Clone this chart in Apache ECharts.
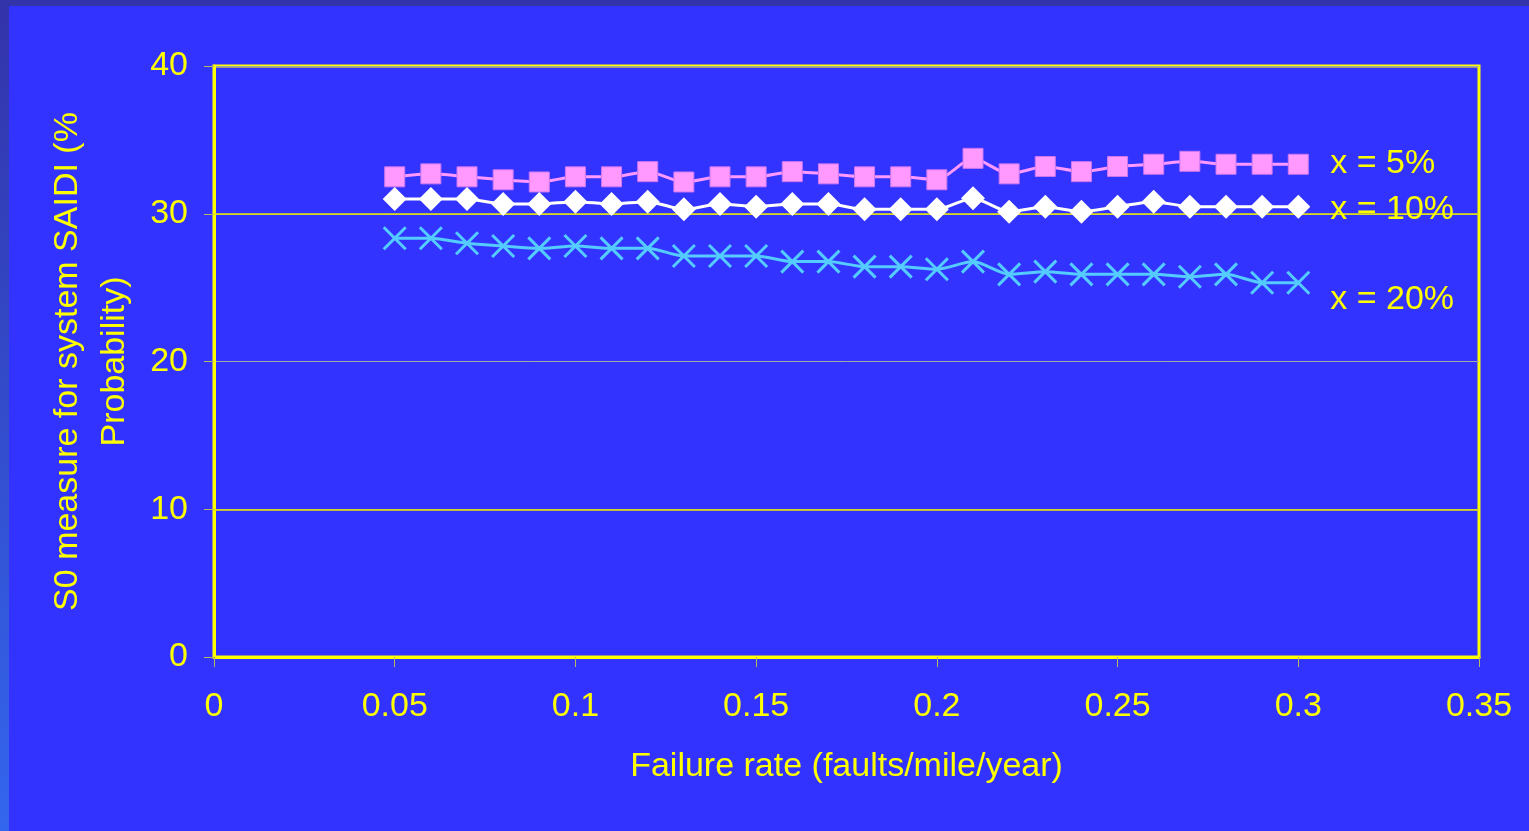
<!DOCTYPE html>
<html>
<head>
<meta charset="utf-8">
<script src="https://cdn.jsdelivr.net/npm/echarts@6/dist/echarts.min.js"></script>
<style>
  html, body { margin: 0; padding: 0; background: #3333ff; }
  #chart { width: 1529px; height: 831px; }
</style>
</head>
<body>
<div id="chart"></div>
<script>
// Failure rate (faults/mile/year)
const rate = [0.05, 0.06, 0.07, 0.08, 0.09, 0.10, 0.11, 0.12, 0.13, 0.14, 0.15, 0.16, 0.17,
              0.18, 0.19, 0.20, 0.21, 0.22, 0.23, 0.24, 0.25, 0.26, 0.27, 0.28, 0.29, 0.30];
// S0 measure for system SAIDI (% probability) for each x
const x5  = [32.5, 32.7, 32.5, 32.3, 32.15, 32.5, 32.5, 32.85, 32.15, 32.5, 32.5, 32.85, 32.7,
             32.5, 32.5, 32.3, 33.75, 32.7, 33.2, 32.85, 33.2, 33.35, 33.55, 33.35, 33.35, 33.35];
const x10 = [31.0, 31.0, 31.0, 30.66, 30.66, 30.82, 30.66, 30.82, 30.3, 30.66, 30.48, 30.66, 30.66,
             30.3, 30.3, 30.3, 31.05, 30.14, 30.48, 30.14, 30.48, 30.82, 30.48, 30.48, 30.48, 30.48];
const x20 = [28.34, 28.34, 28.0, 27.82, 27.66, 27.82, 27.66, 27.66, 27.14, 27.14, 27.14, 26.76, 26.76,
             26.42, 26.42, 26.24, 26.76, 25.9, 26.08, 25.9, 25.9, 25.9, 25.74, 25.9, 25.33, 25.33];
const seriesNames = ['x = 5%', 'x = 10%', 'x = 20%'];
// gridlines drawn in yellow
const yellowGrid = [10, 30];

const FONT = "'Liberation Sans', Arial, sans-serif";
const YELLOW = '#ffff00';
const pairs = arr => arr.map((v, i) => [rate[i], v]);

const chart = echarts.init(document.getElementById('chart'), null, { renderer: 'canvas' });

const endLabel = (text, dy) => ({
  show: true,
  formatter: text,
  color: YELLOW,
  fontFamily: FONT,
  fontSize: 34,
  distance: 32,
  offset: [0, dy]
});

chart.setOption({
  backgroundColor: '#3333ff',
  animation: false,
  graphic: [
    { type: 'rect', shape: { x: 0, y: 0, width: 1529, height: 6 }, style: { fill: '#3333aa' }, z: -1 },
    { type: 'rect', shape: { x: 0, y: 0, width: 9, height: 831 },
      style: { fill: new echarts.graphic.LinearGradient(0, 0, 0, 1, [
        { offset: 0, color: '#3333aa' }, { offset: 1, color: '#3366ee' }]) }, z: -1 }
  ],
  grid: {
    left: 214, right: 50, top: 66, bottom: 174,
    show: true, borderColor: YELLOW, borderWidth: 3, backgroundColor: 'transparent'
  },
  xAxis: {
    type: 'value', min: 0, max: 0.35, interval: 0.05,
    name: 'Failure rate (faults/mile/year)',
    nameLocation: 'middle', nameGap: 93,
    nameTextStyle: { color: YELLOW, fontFamily: FONT, fontSize: 34 },
    axisLine: { show: true, lineStyle: { color: YELLOW, width: 3 } },
    axisTick: { show: true, length: 10, lineStyle: { color: '#b8b860', width: 1 } },
    axisLabel: { color: YELLOW, fontFamily: FONT, fontSize: 34, margin: 33 },
    splitLine: { show: false }
  },
  yAxis: {
    type: 'value', min: 0, max: 40, interval: 10,
    name: 'S0 measure for system SAIDI (%\nProbability)',
    nameLocation: 'middle', nameGap: 76, nameRotate: 90,
    nameTextStyle: { color: YELLOW, fontFamily: FONT, fontSize: 34, lineHeight: 47, align: 'center' },
    axisLine: { show: true, lineStyle: { color: YELLOW, width: 3 } },
    axisTick: { show: true, length: 10, lineStyle: { color: '#b8b860', width: 1 } },
    axisLabel: { color: YELLOW, fontFamily: FONT, fontSize: 34, margin: 26 },
    splitLine: { show: true, lineStyle: { color: '#a8a8a8', width: 1 } }
  },
  series: [
    {
      name: seriesNames[0], type: 'line', data: pairs(x5), smooth: 0.25,
      symbol: 'rect', symbolSize: 20,
      lineStyle: { color: '#ff99ff', width: 3 },
      itemStyle: { color: '#ff99ff', borderColor: '#cc77ee', borderWidth: 1 },
      endLabel: endLabel(seriesNames[0], -1),
      markLine: {
        silent: true, symbol: 'none', label: { show: false },
        lineStyle: { color: '#e8e800', width: 1.5, type: 'solid' },
        data: yellowGrid.map(v => ({ yAxis: v })),
        z: 1
      },
      z: 3
    },
    {
      name: seriesNames[1], type: 'line', data: pairs(x10), smooth: 0.25,
      symbol: 'diamond', symbolSize: [24, 24],
      lineStyle: { color: '#ffffff', width: 3 },
      itemStyle: { color: '#ffffff' },
      endLabel: endLabel(seriesNames[1], 3),
      z: 4
    },
    {
      name: seriesNames[2], type: 'line', data: pairs(x20), smooth: 0.25,
      symbol: 'path://M0,0 L10,10 M10,0 L0,10', symbolSize: 22,
      lineStyle: { color: '#55ccff', width: 3 },
      itemStyle: { color: 'transparent', borderColor: '#55ccff', borderWidth: 3 },
      endLabel: endLabel(seriesNames[2], 17),
      z: 2
    }
  ]
});
</script>
</body>
</html>
